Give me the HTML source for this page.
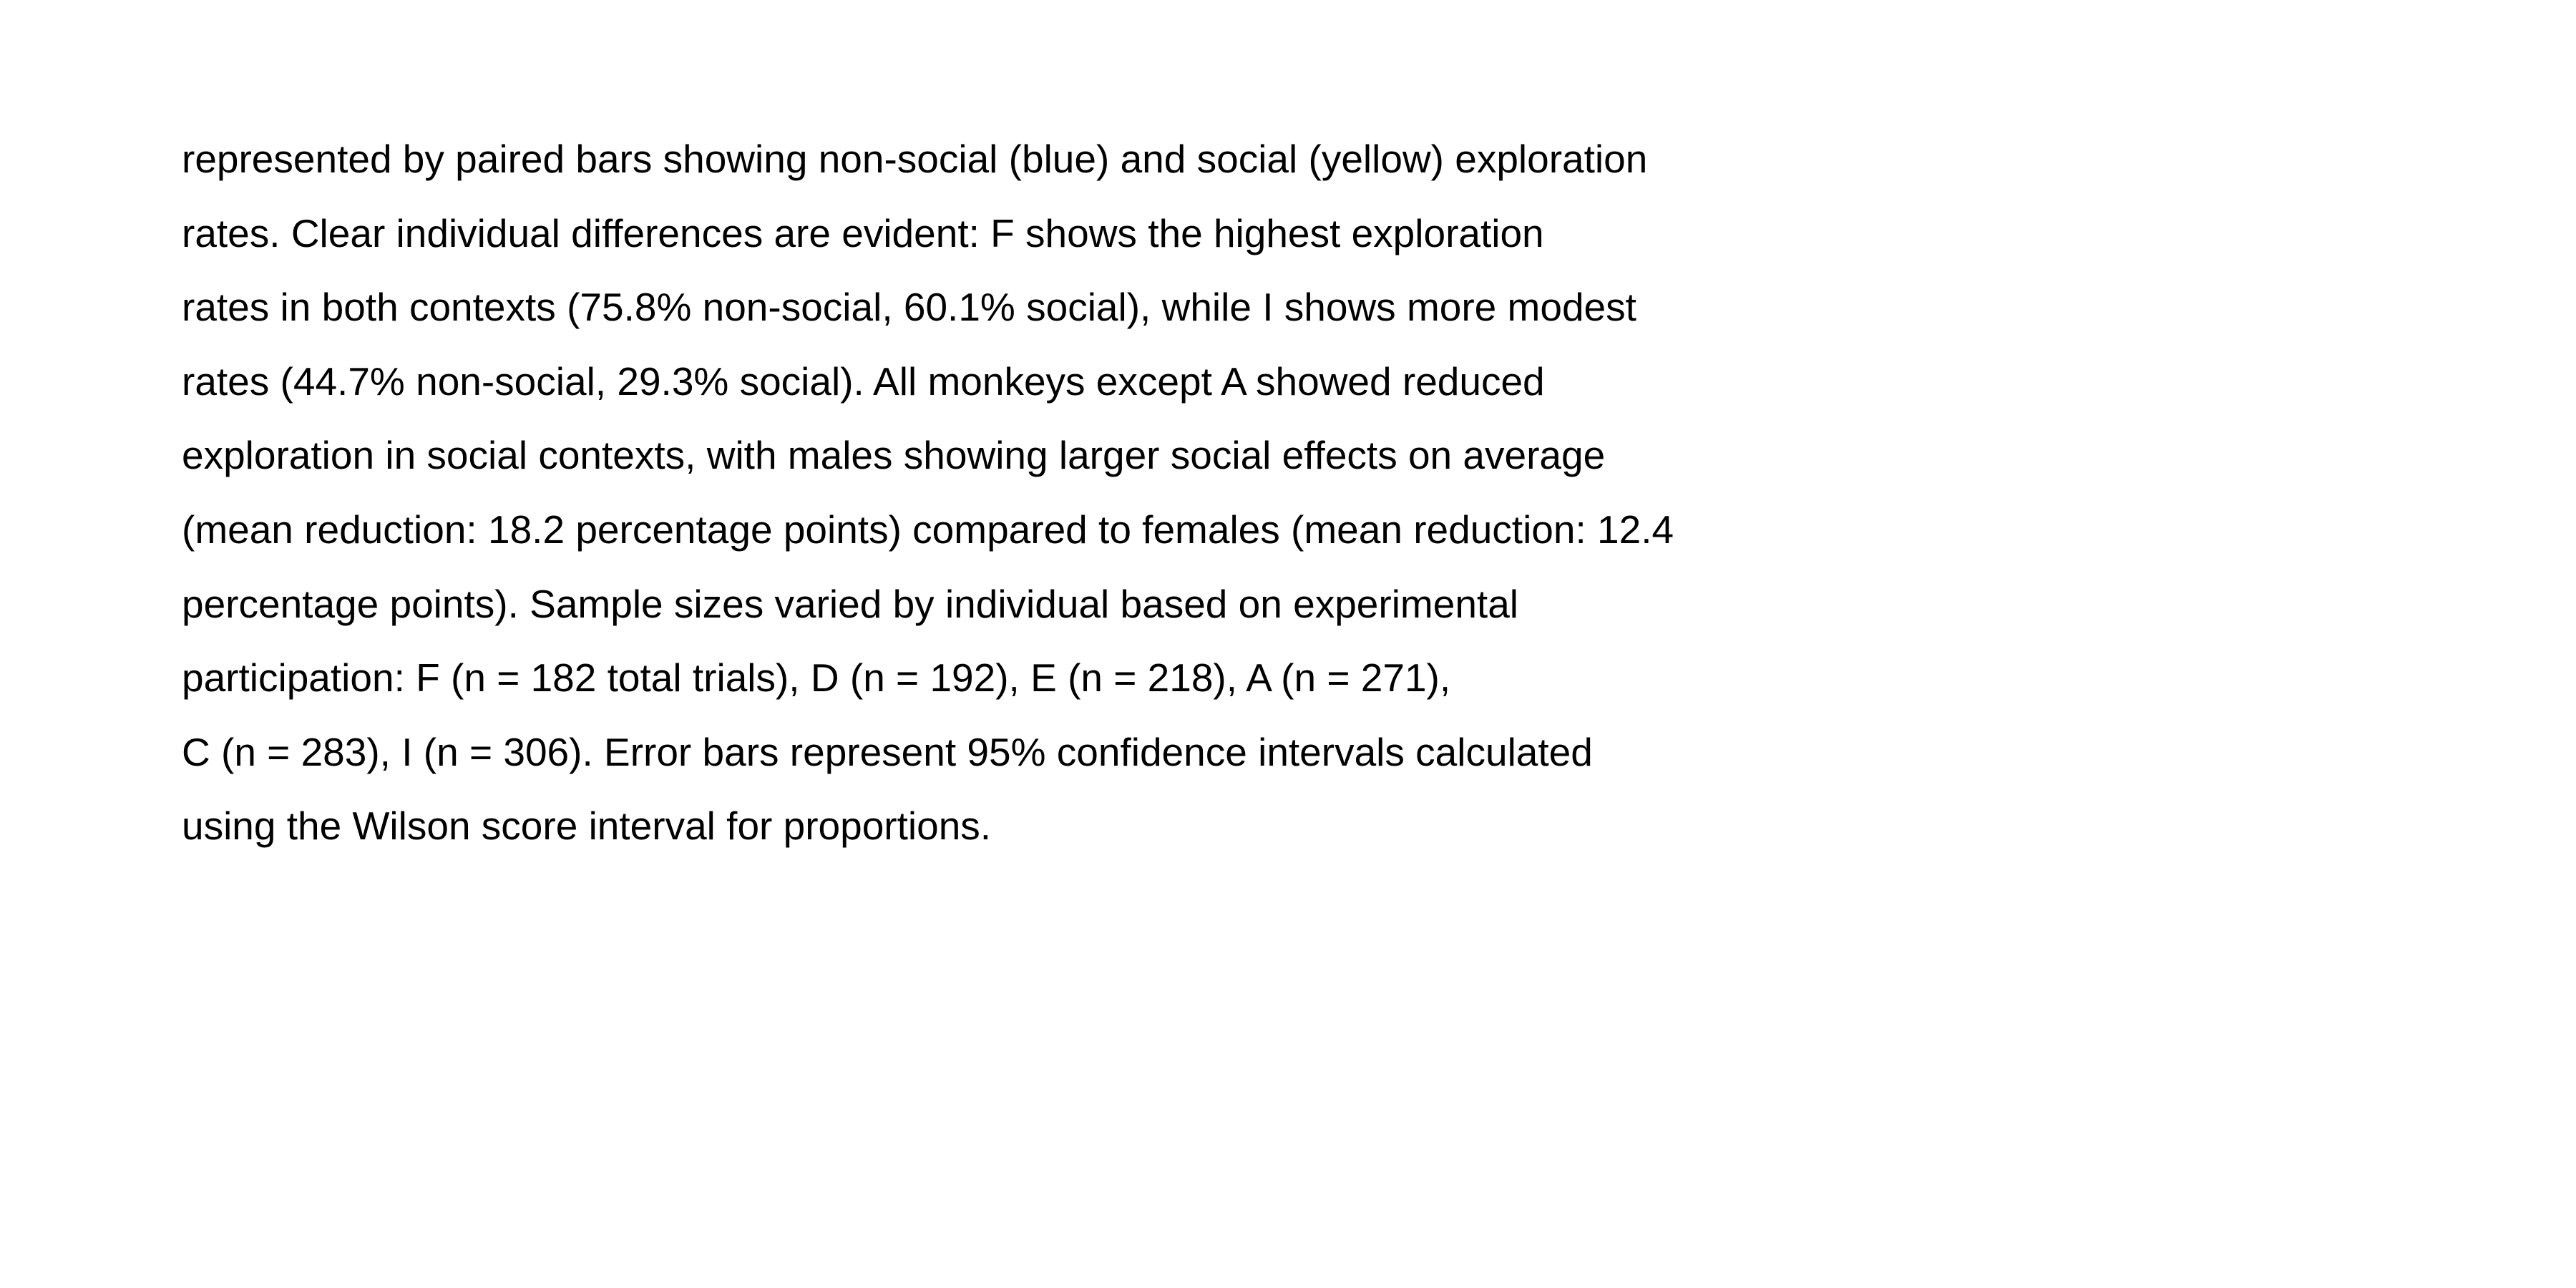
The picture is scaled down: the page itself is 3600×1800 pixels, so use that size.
<!DOCTYPE html>
<html><head><meta charset="utf-8"><style>
html,body{margin:0;padding:0;background:#fff;width:3600px;height:1800px;overflow:hidden}
text{font-family:"Liberation Sans",Arial,sans-serif;font-size:55px;fill:#000}
</style></head><body>
<svg width="3600" height="1800">
<g>
<text x="254" y="241">represented by paired bars showing non-social (blue) and social (yellow) exploration</text>
<text x="254" y="345">rates. Clear individual differences are evident: F shows the highest exploration</text>
<text x="254" y="448">rates in both contexts (75.8% non-social, 60.1% social), while I shows more modest</text>
<text x="254" y="552">rates (44.7% non-social, 29.3% social). All monkeys except A showed reduced</text>
<text x="254" y="655">exploration in social contexts, with males showing larger social effects on average</text>
<text x="254" y="759">(mean reduction: 18.2 percentage points) compared to females (mean reduction: 12.4</text>
<text x="254" y="863">percentage points). Sample sizes varied by individual based on experimental</text>
<text x="254" y="966">participation: F (n = 182 total trials), D (n = 192), E (n = 218), A (n = 271),</text>
<text x="254" y="1070">C (n = 283), I (n = 306). Error bars represent 95% confidence intervals calculated</text>
<text x="254" y="1173">using the Wilson score interval for proportions.</text>
</g>
</svg>
</body></html>
